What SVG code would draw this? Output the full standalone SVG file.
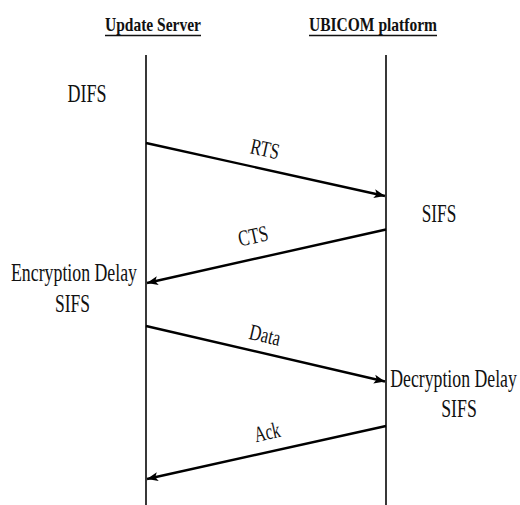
<svg xmlns="http://www.w3.org/2000/svg" width="520" height="505" viewBox="0 0 520 505">
  <style>
    .head { font-family: "Liberation Serif", "Times New Roman", serif; font-weight: bold; font-size: 19.5px; fill: #111; text-anchor: middle; }
    .side { font-family: "Liberation Serif", "Times New Roman", serif; font-size: 25px; fill: #111; text-anchor: middle; }
    .msg { font-family: "Liberation Serif", "Times New Roman", serif; font-size: 22.5px; fill: #111; text-anchor: middle; }
    .life { stroke: #222; stroke-width: 1.8; fill: none; }
    .uline { stroke: #111; stroke-width: 1.5; }
    .arrow { stroke: #000; stroke-width: 2.4; fill: none; marker-end: url(#head); }
  </style>
  <defs>
    <marker id="head" markerUnits="userSpaceOnUse" markerWidth="12" markerHeight="10" refX="11" refY="5" orient="auto">
      <path d="M0,0.5 L11,5 L0,9.5 L2.5,5 Z" fill="#000"/>
    </marker>
  </defs>
  <rect width="520" height="505" fill="#fff"/>

  <!-- Update Server lifeline -->
  <g id="update-server">
    <text class="head" x="153" y="31" textLength="96" lengthAdjust="spacingAndGlyphs">Update Server</text>
    <line class="uline" x1="105" y1="35.5" x2="201" y2="35.5"/>
    <line class="life" x1="146" y1="55" x2="146" y2="505"/>
    <text class="side" x="87" y="102" textLength="39" lengthAdjust="spacingAndGlyphs">DIFS</text>
    <text class="side" x="74" y="281" textLength="126" lengthAdjust="spacingAndGlyphs">Encryption Delay</text>
    <text class="side" x="72.5" y="312" textLength="35" lengthAdjust="spacingAndGlyphs">SIFS</text>
  </g>

  <!-- UBICOM platform lifeline -->
  <g id="ubicom-platform">
    <text class="head" x="373" y="31" textLength="128" lengthAdjust="spacingAndGlyphs">UBICOM platform</text>
    <line class="uline" x1="309" y1="35.5" x2="437" y2="35.5"/>
    <line class="life" x1="386" y1="55" x2="386" y2="505"/>
    <text class="side" x="439" y="221.5" textLength="34.5" lengthAdjust="spacingAndGlyphs">SIFS</text>
    <!-- narrow label: squeezed horizontally to fit beside the lifeline -->
    <text class="side" transform="translate(453.5,386.5) scale(0.71,1)">Decryption Delay</text>
    <text class="side" x="459" y="416.5" textLength="35.5" lengthAdjust="spacingAndGlyphs">SIFS</text>
  </g>

  <!-- message arrows -->
  <g id="connectors">
    <line class="arrow" x1="146" y1="143" x2="385" y2="196"/>
    <line class="arrow" x1="386" y1="229.5" x2="147" y2="283"/>
    <line class="arrow" x1="146" y1="326" x2="385" y2="381.5"/>
    <line class="arrow" x1="386" y1="426" x2="147" y2="479"/>
    <text class="msg" transform="translate(265,149) rotate(12.4)" y="7.5" textLength="29" lengthAdjust="spacingAndGlyphs">RTS</text>
    <text class="msg" transform="translate(253,236) rotate(-12.6)" y="7.5" textLength="30" lengthAdjust="spacingAndGlyphs">CTS</text>
    <text class="msg" transform="translate(265,335) rotate(13)" y="7.5" textLength="31.5" lengthAdjust="spacingAndGlyphs">Data</text>
    <text class="msg" transform="translate(267,432) rotate(-12.5)" y="7.5" textLength="26" lengthAdjust="spacingAndGlyphs">Ack</text>
  </g>
</svg>
